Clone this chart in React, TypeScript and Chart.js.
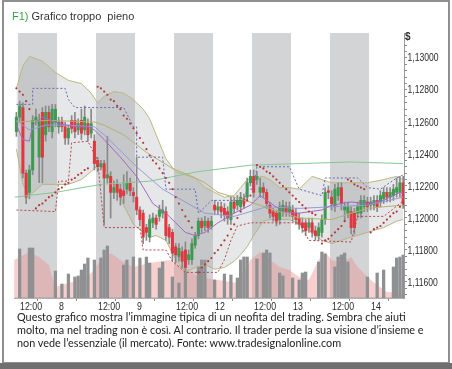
import React, { useEffect, useRef, useState } from 'react';
import { Chart, registerables } from 'chart.js';

Chart.register(...registerables);

// ---- candles (hourly, index 0 = 11:00 day 7) ----
const candleOpen = [
  1.1254, 1.1263, 1.1269, 1.1228, 1.1216, 1.1230, 1.1261, 1.1238, 1.1266, 1.1252,
  1.1266, 1.1254, 1.1260, 1.1257, 1.1260, 1.1257, 1.1250, 1.1261, 1.1261, 1.1255,
  1.1261, 1.1255, 1.1259, 1.1253, 1.1248, 1.1236, 1.1232, 1.1234, 1.1225, 1.1226,
  1.1216, 1.1221, 1.1218, 1.1217, 1.1218, 1.1222, 1.1216, 1.1213, 1.1205, 1.1203,
  1.1194, 1.1188, 1.1197, 1.1200, 1.1201, 1.1203, 1.1204, 1.1194, 1.1191, 1.1182,
  1.1176, 1.1179, 1.1180, 1.1174, 1.1174, 1.1183, 1.1189, 1.1198, 1.1195, 1.1198,
  1.1195, 1.1208, 1.1205, 1.1207, 1.1206, 1.1204, 1.1199, 1.1210, 1.1208, 1.1207,
  1.1212, 1.1213, 1.1222, 1.1226, 1.1224, 1.1216, 1.1219, 1.1216, 1.1208, 1.1204,
  1.1203, 1.1199, 1.1204, 1.1207, 1.1204, 1.1205, 1.1203, 1.1200, 1.1197, 1.1197,
  1.1194, 1.1197, 1.1192, 1.1189, 1.1191, 1.1199, 1.1217, 1.1213, 1.1207, 1.1214,
  1.1219, 1.1205, 1.1203, 1.1204, 1.1203, 1.1203, 1.1203, 1.1207, 1.1210, 1.1208,
  1.1208, 1.1211, 1.1210, 1.1212, 1.1216, 1.1213, 1.1214, 1.1216, 1.1216, 1.1222,
];
const candleClose = [
  1.1263, 1.1270, 1.1228, 1.1213, 1.1230, 1.1261, 1.1263, 1.1261, 1.1238, 1.1266,
  1.1257, 1.1268, 1.1268, 1.1260, 1.1257, 1.1250, 1.1256, 1.1256, 1.1254, 1.1259,
  1.1253, 1.1263, 1.1252, 1.1259, 1.1234, 1.1232, 1.1234, 1.1225, 1.1227, 1.1216,
  1.1219, 1.1216, 1.1213, 1.1214, 1.1222, 1.1217, 1.1214, 1.1205, 1.1199, 1.1188,
  1.1191, 1.1199, 1.1200, 1.1196, 1.1205, 1.1205, 1.1189, 1.1188, 1.1178, 1.1177,
  1.1181, 1.1173, 1.1169, 1.1177, 1.1184, 1.1189, 1.1198, 1.1194, 1.1198, 1.1194,
  1.1198, 1.1205, 1.1207, 1.1204, 1.1202, 1.1200, 1.1210, 1.1206, 1.1211, 1.1213,
  1.1209, 1.1222, 1.1226, 1.1216, 1.1226, 1.1219, 1.1216, 1.1209, 1.1203, 1.1201,
  1.1198, 1.1207, 1.1208, 1.1204, 1.1207, 1.1201, 1.1199, 1.1196, 1.1194, 1.1192,
  1.1197, 1.1191, 1.1189, 1.1194, 1.1199, 1.1216, 1.1216, 1.1209, 1.1218, 1.1219,
  1.1209, 1.1207, 1.1207, 1.1194, 1.1194, 1.1207, 1.1211, 1.1211, 1.1207, 1.1210,
  1.1211, 1.1207, 1.1214, 1.1216, 1.1213, 1.1216, 1.1218, 1.1219, 1.1222, 1.1209,
];
const candleHigh = [
  1.1266, 1.1273, 1.1272, 1.1230, 1.1233, 1.1264, 1.1268, 1.1265, 1.1269, 1.1270,
  1.1270, 1.1271, 1.1271, 1.1263, 1.1263, 1.1260, 1.1258, 1.1264, 1.1266, 1.1262,
  1.1268, 1.1270, 1.1262, 1.1268, 1.1252, 1.1238, 1.1236, 1.1236, 1.1251, 1.1229,
  1.1223, 1.1224, 1.1221, 1.1227, 1.1229, 1.1225, 1.1219, 1.1238, 1.1207, 1.1205,
  1.1196, 1.1202, 1.1203, 1.1202, 1.1208, 1.1211, 1.1207, 1.1196, 1.1193, 1.1184,
  1.1184, 1.1182, 1.1185, 1.1180, 1.1187, 1.1191, 1.1200, 1.1200, 1.1201, 1.1200,
  1.1201, 1.1211, 1.1210, 1.1210, 1.1209, 1.1207, 1.1213, 1.1213, 1.1214, 1.1216,
  1.1215, 1.1225, 1.1230, 1.1230, 1.1229, 1.1225, 1.1222, 1.1218, 1.1210, 1.1206,
  1.1205, 1.1210, 1.1211, 1.1210, 1.1210, 1.1208, 1.1206, 1.1203, 1.1200, 1.1199,
  1.1200, 1.1200, 1.1195, 1.1197, 1.1202, 1.1219, 1.1220, 1.1217, 1.1221, 1.1222,
  1.1222, 1.1210, 1.1210, 1.1207, 1.1206, 1.1210, 1.1214, 1.1214, 1.1213, 1.1213,
  1.1214, 1.1214, 1.1217, 1.1219, 1.1219, 1.1219, 1.1221, 1.1225, 1.1226, 1.1226,
];
const candleLow = [
  1.1251, 1.1260, 1.1225, 1.1209, 1.1212, 1.1227, 1.1258, 1.1222, 1.1222, 1.1248,
  1.1254, 1.1250, 1.1257, 1.1253, 1.1254, 1.1246, 1.1246, 1.1253, 1.1250, 1.1252,
  1.1249, 1.1252, 1.1248, 1.1250, 1.1230, 1.1229, 1.1230, 1.1196, 1.1222, 1.1200,
  1.1212, 1.1211, 1.1208, 1.1209, 1.1215, 1.1214, 1.1210, 1.1202, 1.1195, 1.1184,
  1.1186, 1.1185, 1.1194, 1.1193, 1.1198, 1.1200, 1.1186, 1.1184, 1.1173, 1.1172,
  1.1173, 1.1169, 1.1164, 1.1171, 1.1171, 1.1181, 1.1187, 1.1191, 1.1192, 1.1191,
  1.1193, 1.1202, 1.1202, 1.1200, 1.1198, 1.1196, 1.1196, 1.1203, 1.1205, 1.1204,
  1.1206, 1.1211, 1.1220, 1.1213, 1.1221, 1.1213, 1.1213, 1.1206, 1.1200, 1.1198,
  1.1195, 1.1196, 1.1201, 1.1201, 1.1201, 1.1198, 1.1196, 1.1193, 1.1191, 1.1189,
  1.1191, 1.1188, 1.1186, 1.1186, 1.1188, 1.1196, 1.1212, 1.1205, 1.1204, 1.1211,
  1.1205, 1.1198, 1.1200, 1.1190, 1.1190, 1.1200, 1.1200, 1.1204, 1.1204, 1.1205,
  1.1205, 1.1204, 1.1207, 1.1209, 1.1210, 1.1210, 1.1211, 1.1213, 1.1213, 1.1206,
];

// ---- volume (lots) ----
const volume = [
  0, 4900, 0, 0, 5000, 5000, 0, 0, 0, 0,
  0, 0, 2700, 0, 1400, 0, 2400, 0, 2100, 2200,
  2800, 3400, 4000, 0, 3800, 0, 4000, 4800, 5200, 0,
  0, 0, 0, 3300, 3800, 0, 4100, 0, 4000, 0,
  4100, 3500, 0, 0, 3000, 3600, 0, 0, 2100, 0,
  1500, 0, 2600, 0, 0, 0, 3100, 3800, 3800, 0,
  0, 1800, 0, 0, 2400, 0, 2300, 0, 2000, 3800,
  4100, 4100, 0, 0, 3900, 0, 4500, 4800, 4500, 0,
  0, 2500, 2200, 0, 0, 2000, 0, 1800, 2500, 2600,
  0, 0, 0, 3600, 4600, 4400, 0, 0, 3100, 4100,
  4300, 4500, 3600, 0, 0, 0, 0, 0, 2100, 0,
  0, 2500, 0, 2800, 0, 0, 3100, 4000, 4100, 4300,
];
const avgVolIdx = [-0.7, 4, 7, 10, 11, 12, 16, 20, 23, 26, 29, 32, 36, 41, 47, 53, 56, 62, 68, 72, 75, 78, 81, 84, 87, 90, 93, 95, 97, 100, 103, 105, 108, 111, 114, 119.2];
const avgVol = [3800, 4600, 4100, 3300, 2100, 1100, 1500, 1800, 2500, 3800, 4500, 3800, 3100, 3500, 3800, 2800, 2100, 1800, 1500, 3800, 4600, 3800, 3100, 2800, 2100, 1800, 3800, 4600, 3800, 3500, 4100, 3100, 2100, 1300, 600, 500];

// ---- Bollinger bands ----
const bbIdx = [0, 2, 4, 8, 12, 16, 20, 23, 25, 27, 30, 33, 36, 39, 41, 43, 46, 49, 52, 55, 58, 61, 64, 67, 69, 71, 73, 76, 78, 81, 84, 87, 91, 94, 97, 103, 108, 113, 117, 119];
const bbUpper = [1.1281, 1.1295, 1.1301, 1.1298, 1.1291, 1.1286, 1.1284, 1.1278, 1.1272, 1.1276, 1.1279, 1.1278, 1.1274, 1.1268, 1.1262, 1.1252, 1.1237, 1.1229, 1.1227, 1.1225, 1.1219, 1.1216, 1.1213, 1.1214, 1.1219, 1.1224, 1.1225, 1.1226, 1.1224, 1.1219, 1.1219, 1.1218, 1.1226, 1.1224, 1.1222, 1.1222, 1.1222, 1.1224, 1.1226, 1.1224];
const bbLower = [1.1243, 1.1221, 1.1214, 1.1221, 1.1221, 1.1221, 1.1224, 1.1229, 1.1233, 1.1231, 1.1223, 1.1208, 1.1196, 1.1191, 1.1188, 1.1189, 1.1186, 1.1174, 1.1166, 1.1169, 1.1171, 1.1168, 1.1169, 1.1173, 1.1177, 1.1182, 1.1189, 1.1198, 1.1199, 1.1199, 1.1199, 1.1196, 1.1191, 1.1186, 1.1184, 1.1188, 1.1191, 1.1194, 1.1198, 1.1199];

// ---- moving averages ----
const oliveIdx = [0, 10, 24, 27, 33, 40, 48, 54, 58, 62, 67, 75, 81, 87, 97, 103, 108, 113, 119];
const oliveMA = [1.1260, 1.1261, 1.1260, 1.1258, 1.1252, 1.1241, 1.1231, 1.1226, 1.1222, 1.1216, 1.1213, 1.1208, 1.1204, 1.1200, 1.1199, 1.1203, 1.1206, 1.1207, 1.1208];
const ma1Idx = [0, 2, 4, 5, 8, 13, 18, 22, 24, 27, 32, 37, 42, 46, 49, 52, 55, 58, 62, 67, 72, 75, 77, 82, 87, 94, 97, 103, 108, 113, 118, 119];
const ma1 = [1.1258, 1.1249, 1.1248, 1.1258, 1.1263, 1.1259, 1.1257, 1.1257, 1.1255, 1.1249, 1.1238, 1.1226, 1.1209, 1.1203, 1.1197, 1.1191, 1.1189, 1.1191, 1.1197, 1.1203, 1.1208, 1.1214, 1.1211, 1.1204, 1.1203, 1.1205, 1.1208, 1.1210, 1.1209, 1.1211, 1.1216, 1.1216];
const ma2Idx = [0, 4, 9, 16, 24, 27, 37, 45, 58, 67, 77, 87, 97, 108, 119];
const ma2 = [1.1261, 1.1255, 1.1258, 1.1258, 1.1257, 1.1252, 1.1232, 1.1218, 1.1203, 1.1201, 1.1207, 1.1206, 1.1207, 1.1208, 1.1213];
const longIdx = [-0.5, 12, 26, 41, 56, 72, 87, 103, 119];
const longMA = [1.1213, 1.1216, 1.1221, 1.1223, 1.1229, 1.1233, 1.1234, 1.1235, 1.1234];

// ---- channels ----
const dcUpIdx = [0, 5, 5, 15, 16, 18, 33, 36, 37, 37, 45, 46, 55, 56, 60, 70, 71, 73, 74, 84, 87, 94, 95, 105, 108, 112, 117, 119];
const dcUp = [1.1271, 1.1271, 1.1281, 1.1281, 1.1274, 1.1269, 1.1269, 1.1257, 1.1257, 1.1238, 1.1238, 1.1218, 1.1218, 1.1203, 1.1211, 1.1211, 1.1218, 1.1218, 1.1232, 1.1232, 1.1218, 1.1214, 1.1225, 1.1225, 1.1219, 1.1218, 1.1225, 1.1227];
const dcLoIdx = [0, 12, 13, 16, 17, 22, 25, 27, 38, 39, 46, 48, 52, 62, 64, 66, 68, 72, 87, 90, 103, 104, 105, 113, 118, 119];
const dcLo = [1.1205, 1.1204, 1.1223, 1.1223, 1.1247, 1.1248, 1.1236, 1.1194, 1.1194, 1.1180, 1.1180, 1.1173, 1.1166, 1.1166, 1.1174, 1.1186, 1.1195, 1.1197, 1.1197, 1.1186, 1.1185, 1.1193, 1.1201, 1.1201, 1.1209, 1.1211];

// ---- parabolic SAR (one per candle) ----
const sar = [
  1.1281, 1.1279, 1.1277, 1.1273, 1.1268, null,
  1.1206, 1.1208, 1.1209, 1.1211, 1.1213, 1.1214, 1.1216, 1.1218, 1.1219, 1.1221, 1.1222, 1.1224, 1.1225, 1.1227, 1.1228, 1.1230, 1.1231,
  null, null,
  1.1282, 1.1281, 1.1279, 1.1277, 1.1274, 1.1273, 1.1270, 1.1268, 1.1264, 1.1262, 1.1259, 1.1256, 1.1253, 1.1250, 1.1247, 1.1243, 1.1239, 1.1236, 1.1234, 1.1231, 1.1228, 1.1225, 1.1222, 1.1218, 1.1213, 1.1209, 1.1205, 1.1201, 1.1198, 1.1194,
  null,
  1.1166, 1.1169, 1.1171, 1.1173, 1.1175, 1.1178, 1.1180, 1.1183, 1.1186, 1.1189, 1.1193, 1.1196, 1.1200, 1.1204, 1.1208, 1.1211, 1.1214,
  null,
  1.1233, 1.1232, 1.1231, 1.1229, 1.1228, 1.1226, 1.1224, 1.1222, 1.1220, 1.1218, 1.1216, 1.1214, 1.1212, 1.1210, 1.1208, 1.1206, 1.1204, 1.1203, 1.1202,
  null,
  1.1184, 1.1186, 1.1187, 1.1189, 1.1191, 1.1193, 1.1195, 1.1198,
  1.1224, 1.1223, 1.1221, 1.1220, 1.1219, 1.1218,
  null,
  1.1191, 1.1193, 1.1194, 1.1195, 1.1197, 1.1199, 1.1201, 1.1203, 1.1204, 1.1207, 1.1209,
];

// ---- time axis ----
const xTickPos = [0.5, 12.5, 24.5, 36.5, 48.5, 60.5, 72.5, 84.5, 96.5, 108.5];
const xTickLabels = ['12:00', '8', '12:00', '9', '12:00', '12', '12:00', '13', '12:00', '14'];
const nightBands = [[0.5, 12.5], [24.5, 36.5], [48.5, 60.5], [72.5, 84.5], [96.5, 108.5]];

const captionLines = [
  'Questo grafico mostra l\u2019immagine tipica di un neofita del trading. Sembra che aiuti',
  'molto, ma nel trading non \u00e8 cos\u00ec. Al contrario. Il trader perde la sua visione d\u2019insieme e',
  'non vede l\u2019essenziale (il mercato). Fonte: www.tradesignalonline.com',
];

const GREEN = '#3d9b4f';
const RED = '#e2373f';
const AXFONT = "'Liberation Sans', Arial, sans-serif";
const CAPFONT = "Lato, 'Liberation Sans', sans-serif";

const pts = (idx: number[], vals: (number | null)[]) => idx.map((x, k) => ({ x, y: vals[k] }));

const bandPlugin = {
  id: 'nightBands',
  beforeDatasetsDraw(chart: any) {
    const { ctx, chartArea, scales } = chart;
    const xs = scales.x;
    ctx.save();
    ctx.fillStyle = '#d3d4d6';
    for (const [a, b] of nightBands) {
      const x0 = xs.getPixelForValue(a);
      const x1 = xs.getPixelForValue(b);
      ctx.fillRect(x0, chartArea.top, x1 - x0, chartArea.bottom - chartArea.top);
    }
    ctx.restore();
  },
};

// condensed axis labels (the original uses a narrow face)
const labelPlugin = {
  id: 'narrowLabels',
  afterDraw(chart: any) {
    const { ctx, chartArea, scales } = chart;
    ctx.save();
    ctx.fillStyle = '#2b2b2b';
    ctx.textBaseline = 'middle';
    ctx.textAlign = 'left';
    ctx.font = `11px ${AXFONT}`;
    const ys = scales.y;
    for (const t of ys.ticks) {
      const k = Math.round(t.value * 10000);
      if (k % 20 !== 0) continue;
      const label = (k / 10000).toFixed(5).replace('.', ',');
      const py = ys.getPixelForValue(t.value);
      ctx.save();
      ctx.translate(chartArea.right + 3.5, py + 0.5);
      ctx.scale(0.78, 1);
      ctx.fillText(label, 0, 0);
      ctx.restore();
    }
    const xs = scales.x;
    xTickPos.forEach((v, i) => {
      const px = xs.getPixelForValue(v);
      ctx.save();
      ctx.translate(px + 2, chartArea.bottom + 9);
      ctx.scale(0.8, 1);
      ctx.fillText(xTickLabels[i], 0, 0);
      ctx.restore();
    });
    ctx.restore();
  },
};

export default function App() {
  const ref = useRef<HTMLCanvasElement | null>(null);
  const [capSize, setCapSize] = useState(11);

  useEffect(() => {
    const c = document.createElement('canvas').getContext('2d');
    if (c) {
      c.font = `11px ${CAPFONT}`;
      const w = c.measureText(captionLines[1]).width;
      if (w > 0) setCapSize((11 * 408) / w);
    }
  }, []);

  useEffect(() => {
    if (!ref.current) return;
    const idx = candleOpen.map((_, i) => i);
    const up = (i: number) => candleClose[i] >= candleOpen[i];
    const line = (extra: any) => ({
      type: 'line',
      pointRadius: 0,
      borderWidth: 1,
      tension: 0,
      fill: false,
      yAxisID: 'y',
      ...extra,
    });

    const chart = new Chart(ref.current, {
      type: 'bar',
      data: {
        datasets: [
          line({
            data: pts(idx, sar),
            showLine: false,
            pointRadius: 1.1,
            pointBackgroundColor: '#b23a3a',
            pointBorderWidth: 0,
            order: 0,
          }),
          line({ data: pts(dcUpIdx, dcUp), borderColor: '#6a6ab8', borderDash: [2, 2], order: 1 }),
          line({ data: pts(dcLoIdx, dcLo), borderColor: '#b04a4a', borderDash: [2, 2], order: 1 }),
          line({ data: pts(ma1Idx, ma1), borderColor: '#a468c4', order: 2 }),
          line({ data: pts(ma2Idx, ma2), borderColor: '#9a9ad6', order: 2 }),
          line({ data: pts(oliveIdx, oliveMA), borderColor: '#b3b072', order: 2 }),
          line({ data: pts(longIdx, longMA), borderColor: '#86c893', order: 2 }),
          {
            type: 'bar',
            data: idx.map((i) => ({ x: i, y: [candleOpen[i], candleClose[i]] })),
            backgroundColor: idx.map((i) => (up(i) ? GREEN : RED)),
            borderWidth: 0,
            barThickness: 2.4,
            grouped: false,
            yAxisID: 'y',
            order: 3,
          },
          {
            type: 'bar',
            data: idx.map((i) => ({ x: i, y: [candleLow[i], candleHigh[i]] })),
            backgroundColor: '#8a8a8a',
            borderWidth: 0,
            barThickness: 1,
            grouped: false,
            yAxisID: 'y',
            order: 4,
          },
          line({
            data: pts(bbIdx, bbUpper),
            borderColor: '#bdb77e',
            backgroundColor: 'rgba(160,162,166,0.26)',
            fill: '+1',
            order: 5,
          }),
          line({ data: pts(bbIdx, bbLower), borderColor: '#bdb77e', order: 5 }),
          {
            type: 'bar',
            data: idx.map((i) => ({ x: i, y: volume[i] })),
            backgroundColor: '#8f9092',
            borderWidth: 0,
            barThickness: 2.6,
            grouped: false,
            yAxisID: 'yv',
            order: 6,
          },
          {
            type: 'line',
            data: pts(avgVolIdx, avgVol),
            yAxisID: 'yv',
            borderWidth: 0,
            pointRadius: 0,
            tension: 0,
            fill: 'origin',
            backgroundColor: 'rgba(236,140,140,0.42)',
            order: 7,
          },
        ] as any,
      },
      options: {
        responsive: false,
        maintainAspectRatio: false,
        animation: false,
        events: [],
        layout: { padding: { left: 14, top: 33, right: 0, bottom: 0 } },
        plugins: { legend: { display: false }, tooltip: { enabled: false } },
        scales: {
          x: {
            type: 'linear',
            min: -0.74,
            max: 119.26,
            offset: false,
            afterBuildTicks: (s: any) => {
              s.ticks = xTickPos.map((v) => ({ value: v }));
            },
            afterFit: (s: any) => {
              s.height = 18;
            },
            grid: { drawOnChartArea: false, drawTicks: true, tickLength: 3, color: '#888' },
            border: { display: true, color: '#b0b0b0' },
            ticks: { display: false },
          },
          y: {
            position: 'right',
            min: 1.115,
            max: 1.13156,
            afterBuildTicks: (s: any) => {
              const t = [];
              for (let k = 11152; k <= 11312; k += 4) t.push({ value: k / 10000 });
              s.ticks = t;
            },
            afterFit: (s: any) => {
              s.width = 48;
            },
            grid: { drawOnChartArea: false, drawTicks: true, tickLength: 3, color: '#888' },
            border: { display: true, color: '#999' },
            ticks: { display: false },
          },
          yv: { display: false, min: 0, max: 26500 },
        },
      } as any,
      plugins: [bandPlugin, labelPlugin],
    });
    return () => chart.destroy();
  }, []);

  return (
    <div style={{ position: 'absolute', left: 0, top: 0, width: 452, height: 369, background: '#fff', overflow: 'hidden' }}>
      <div
        style={{
          position: 'absolute', left: 2, top: 0, width: 448, height: 364,
          border: '2px solid #8e8e8e', boxSizing: 'border-box',
        }}
      />
      <div style={{ position: 'absolute', left: 0, top: 363, width: 452, height: 6, background: '#6f6f6f' }} />
      <canvas ref={ref} width={452} height={316} style={{ position: 'absolute', left: 0, top: 0, width: 452, height: 316 }} />
      <div
        style={{
          position: 'absolute', left: 12, top: 9, fontFamily: AXFONT,
          fontSize: 11, lineHeight: '14px', color: '#333', whiteSpace: 'pre',
        }}
      >
        <span style={{ color: '#38a043' }}>F1)</span> Grafico troppo  pieno
      </div>
      <div
        style={{
          position: 'absolute', left: 405, top: 31, fontFamily: AXFONT, fontSize: 10,
          lineHeight: '12px', color: '#333', fontWeight: 'bold',
        }}
      >
        $
      </div>
      <div
        style={{
          position: 'absolute', left: 17, top: 310, fontFamily: CAPFONT, fontSize: capSize,
          lineHeight: '13px', color: '#222',
        }}
      >
        {captionLines.map((l, i) => (
          <div key={i} style={{ whiteSpace: 'nowrap' }}>{l}</div>
        ))}
      </div>
    </div>
  );
}
